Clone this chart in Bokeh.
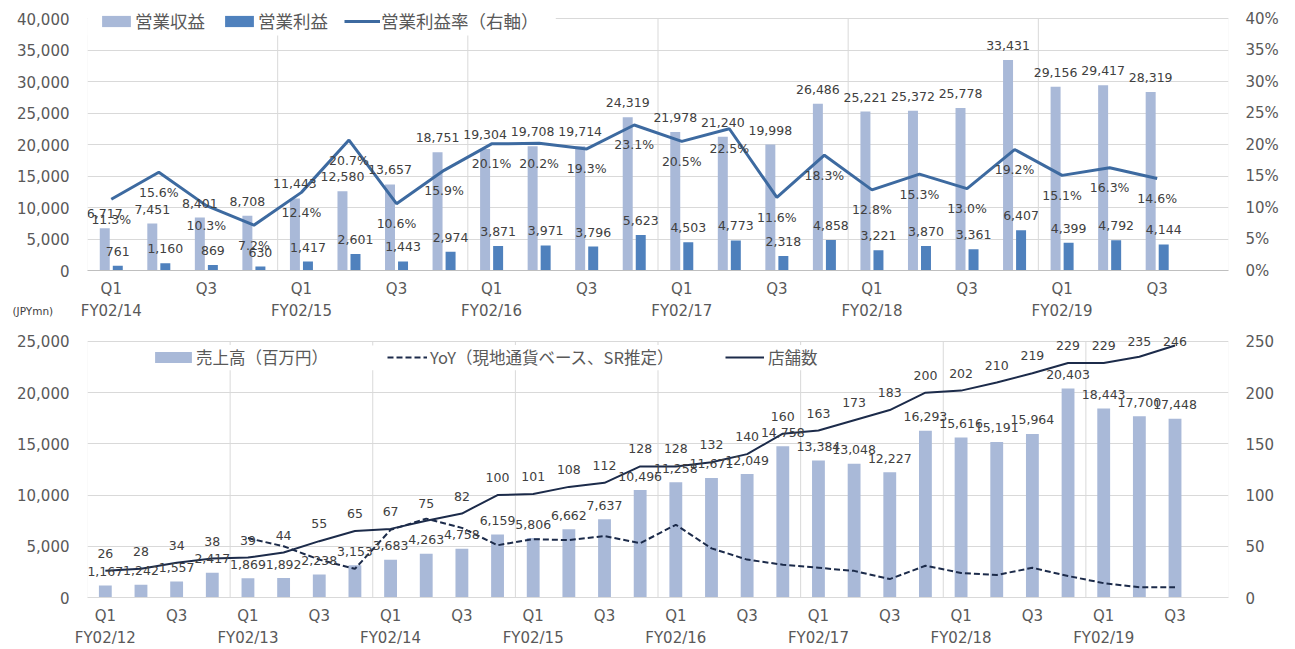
import numpy as np
from bokeh.plotting import figure
from bokeh.models import (Range1d, LinearAxis, FixedTicker, NumeralTickFormatter,
                          PrintfTickFormatter, ColumnDataSource, LabelSet, Title,
                          Legend, LegendItem, BoxAnnotation)
from bokeh.layouts import column
from bokeh.embed import file_html
from bokeh.resources import INLINE
from bokeh.core.properties import value

# ---------------- data: top chart ----------------
top_years = ["FY02/14", "FY02/15", "FY02/16", "FY02/17", "FY02/18", "FY02/19"]
quarter_names = ["Q1", "Q2", "Q3", "Q4"]
op_revenue = [6717, 7451, 8401, 8708, 11443, 12580, 13657, 18751, 19304, 19708, 19714, 24319,
              21978, 21240, 19998, 26486, 25221, 25372, 25778, 33431, 29156, 29417, 28319]
op_profit = [761, 1160, 869, 630, 1417, 2601, 1443, 2974, 3871, 3971, 3796, 5623,
             4503, 4773, 2318, 4858, 3221, 3870, 3361, 6407, 4399, 4792, 4144]
op_margin = [11.3, 15.6, 10.3, 7.2, 12.4, 20.7, 10.6, 15.9, 20.1, 20.2, 19.3, 23.1,
             20.5, 22.5, 11.6, 18.3, 12.8, 15.3, 13.0, 19.2, 15.1, 16.3, 14.6]

# ---------------- data: bottom chart ----------------
bottom_years = ["FY02/12", "FY02/13", "FY02/14", "FY02/15", "FY02/16", "FY02/17", "FY02/18", "FY02/19"]
sales = [1167, 1242, 1557, 2417, 1869, 1892, 2238, 3153, 3683, 4263, 4758, 6159, 5806, 6662, 7637,
         10496, 11258, 11671, 12049, 14758, 13384, 13048, 12227, 16293, 15616, 15191, 15964,
         20403, 18443, 17700, 17448]
stores = [26, 28, 34, 38, 39, 44, 55, 65, 67, 75, 82, 100, 101, 108, 112, 128, 128, 132, 140,
          160, 163, 173, 183, 200, 202, 210, 219, 229, 229, 235, 246]
yoy_start = 4
yoy = [58, 50, 37, 28, 66, 77, 68, 51, 57, 56, 60, 53, 71, 48, 37, 32, 29, 26, 18, 31,
       24, 22, 29, 21, 14, 10, 10]

# ---------------- styles ----------------
LIGHT = "#A9B9D8"
DARK = "#4F81BD"
LINE_TOP = "#3D6AA0"
NAVY = "#1C2B4A"
GRID = "#D9D9D9"
TICK_C = "#595959"
LAB_C = "#404040"
NUM_FONT = "DejaVu Sans"
JP_FONT = "Noto Sans CJK JP"
W = 1295


def style_axis(ax, standoff, size="15px"):
    ax.axis_line_color = None
    ax.major_tick_line_color = None
    ax.minor_tick_line_color = None
    ax.major_tick_out = 0
    ax.major_tick_in = 0
    ax.major_label_text_font = NUM_FONT
    ax.major_label_text_font_size = size
    ax.major_label_text_color = TICK_C
    ax.major_label_standoff = standoff


def fmt(v):
    return f"{v:,}"


def build_quarter_axes(p, n, years, s1, s2):
    qx = list(range(0, n, 2))
    q_over = {i: quarter_names[i % 4] for i in qx}
    fx = list(range(0, n, 4))
    f_over = {i: years[i // 4] for i in fx}
    ax_q = p.below[0]
    ax_q.ticker = FixedTicker(ticks=qx)
    ax_q.major_label_overrides = q_over
    style_axis(ax_q, s1)
    ax_f = LinearAxis(ticker=FixedTicker(ticks=fx), major_label_overrides=f_over)
    style_axis(ax_f, s2)
    p.add_layout(ax_f, "below")
    return ax_q, ax_f


def year_lines(p, n, ymax):
    b = np.arange(3.5, n, 4)
    p.segment(x0=b, y0=np.zeros(len(b)), x1=b, y1=np.full(len(b), ymax),
              line_color=GRID, line_width=1, level="underlay")


lab_kw = dict(text_font=value(NUM_FONT), text_font_size=value("12.5px"), text_color=LAB_C,
              text_align="center", text_baseline="middle")
leg_kw = dict(orientation="horizontal", label_text_font=JP_FONT,
              label_text_color=TICK_C, glyph_height=14, label_height=14, margin=0,
              border_line_color=None, background_fill_color="white", background_fill_alpha=1.0)

# ================= TOP FIGURE =================
n1 = len(op_revenue)
x1 = np.arange(n1)
Y1_MAX, P1_MAX = 40000, 40
ext1 = 1 + 14 / 252          # frame reaches a little above the 40,000 line (room for legend)
p1 = figure(width=W, height=326, x_range=Range1d(-0.5, n1 + 0.5),
            y_range=Range1d(0, Y1_MAX * ext1),
            output_backend="svg", toolbar_location=None,
            min_border_left=87, min_border_right=67, min_border_top=4, min_border_bottom=56)
p1.extra_y_ranges = {"pct": Range1d(0, P1_MAX * ext1)}
p1.outline_line_color = None
p1.background_fill_color = "white"
p1.border_fill_color = "white"

ax_q1, ax_f1 = build_quarter_axes(p1, n1, top_years, 9, 1)
ax_q1.axis_line_color = "#BFBFBF"

ly1 = p1.left[0]
yt1 = FixedTicker(ticks=list(range(0, Y1_MAX + 1, 5000)))
ly1.ticker = yt1
ly1.formatter = NumeralTickFormatter(format="0,0")
style_axis(ly1, 18)
p1.ygrid.ticker = yt1
p1.ygrid.grid_line_color = GRID
p1.xgrid.visible = False
year_lines(p1, n1, Y1_MAX)
p1.add_layout(BoxAnnotation(left=-0.5, right=n1 + 0.5, bottom=0, top=Y1_MAX, fill_color=None,
                            line_color=GRID, line_width=1, level="underlay"))
# white area behind the legend (legend sits over the plot's top-left corner)
p1.add_layout(BoxAnnotation(left=-0.6, right=9.35, bottom=37300, top=Y1_MAX * ext1,
                            fill_color="white", fill_alpha=1.0, line_color=None, level="underlay"))

ry1 = LinearAxis(y_range_name="pct", ticker=FixedTicker(ticks=list(range(0, P1_MAX + 1, 5))),
                 formatter=PrintfTickFormatter(format="%d%%"))
style_axis(ry1, 17)
p1.add_layout(ry1, "right")

src1 = ColumnDataSource(dict(
    xr=x1 - 0.137, xp=x1 + 0.137, xm=x1,
    rev=op_revenue, prof=op_profit, mar=op_margin,
    rev_t=[fmt(v) for v in op_revenue], prof_t=[fmt(v) for v in op_profit],
    mar_t=[f"{v:.1f}%" for v in op_margin]))

r_rev = p1.vbar(x="xr", top="rev", width=0.21, source=src1, fill_color=LIGHT, line_color=None)
r_prof = p1.vbar(x="xp", top="prof", width=0.21, source=src1, fill_color=DARK, line_color=None)
r_mar = p1.line(x="xm", y="mar", source=src1, y_range_name="pct", line_color=LINE_TOP, line_width=3)

p1.add_layout(LabelSet(x="xr", y="rev", text="rev_t", source=src1, y_offset=14.5, **lab_kw))
p1.add_layout(LabelSet(x="xp", y="prof", text="prof_t", source=src1, y_offset=14.5, **lab_kw))
p1.add_layout(LabelSet(x="xm", y="mar", text="mar_t", source=src1, y_range_name="pct",
                       y_offset=-20, **lab_kw))

leg1 = Legend(items=[LegendItem(label="営業収益", renderers=[r_rev]),
                     LegendItem(label="営業利益", renderers=[r_prof]),
                     LegendItem(label="営業利益率（右軸）", renderers=[r_mar])],
              location=(11, 237), label_text_font_size="17.5px", glyph_width=36,
              label_standoff=1, spacing=16, padding=8, **leg_kw)
p1.add_layout(leg1)

p1.add_layout(Title(text="(JPYmn)", align="left", offset=-75, standoff=-36, vertical_align="top",
                    text_font=NUM_FONT, text_font_size="10.5px", text_font_style="normal",
                    text_color=LAB_C), "below")

# ================= BOTTOM FIGURE =================
n2 = len(sales)
x2 = np.arange(n2)
Y2_MAX, S2_MAX = 25000, 250
ext2 = 1 + 13 / 257
p2 = figure(width=W, height=323, x_range=Range1d(-0.5, n2 + 0.5),
            y_range=Range1d(0, Y2_MAX * ext2),
            output_backend="svg", toolbar_location=None,
            min_border_left=86, min_border_right=56, min_border_top=2, min_border_bottom=51)
p2.extra_y_ranges = {"stores": Range1d(0, S2_MAX * ext2)}
p2.outline_line_color = None
p2.background_fill_color = "white"
p2.border_fill_color = "white"

ax_q2, ax_f2 = build_quarter_axes(p2, n2, bottom_years, 9, 1)
ax_q2.axis_line_color = GRID

ly2 = p2.left[0]
yt2 = FixedTicker(ticks=list(range(0, Y2_MAX + 1, 5000)))
ly2.ticker = yt2
ly2.formatter = NumeralTickFormatter(format="0,0")
style_axis(ly2, 18)
p2.ygrid.ticker = yt2
p2.ygrid.grid_line_color = GRID
p2.xgrid.visible = False
year_lines(p2, n2, Y2_MAX)
p2.add_layout(BoxAnnotation(left=-0.5, right=n2 + 0.5, bottom=0, top=Y2_MAX, fill_color=None,
                            line_color=GRID, line_width=1, level="underlay"))
# white band behind the legend row
p2.add_layout(BoxAnnotation(left=-0.1, right=22.0, bottom=22180, top=24610,
                            fill_color="white", fill_alpha=1.0, line_color=None, level="underlay"))

ry2 = LinearAxis(y_range_name="stores", ticker=FixedTicker(ticks=list(range(0, S2_MAX + 1, 50))))
style_axis(ry2, 17)
p2.add_layout(ry2, "right")

stores_arr = np.array(stores, dtype=float)
src2 = ColumnDataSource(dict(
    x=x2, sales=sales, stores=stores,
    sales_t=[fmt(v) for v in sales], stores_t=[str(v) for v in stores],
    st_lab_y=np.minimum(stores_arr + 17, S2_MAX)))
src_yoy = ColumnDataSource(dict(x=x2[yoy_start:yoy_start + len(yoy)], yoy=yoy))

r_sales = p2.vbar(x="x", top="sales", width=0.36, source=src2, fill_color=LIGHT, line_color=None)
r_yoy = p2.line(x="x", y="yoy", source=src_yoy, y_range_name="stores", line_color=NAVY,
                line_width=2, line_dash="6 3")
r_st = p2.line(x="x", y="stores", source=src2, y_range_name="stores", line_color=NAVY, line_width=2)

p2.add_layout(LabelSet(x="x", y="sales", text="sales_t", source=src2, y_offset=14, **lab_kw))
p2.add_layout(LabelSet(x="x", y="st_lab_y", text="stores_t", source=src2, y_range_name="stores",
                       **lab_kw))

for lbl, rr, loc_x, gw, so in [("売上高（百万円）", r_sales, 63, 46, 0),
                               ("YoY（現地通貨ベース、SR推定）", r_yoy, 300, 40, 3),
                               ("店舗数", r_st, 638, 39, 4)]:
    p2.add_layout(Legend(items=[LegendItem(label=lbl, renderers=[rr])],
                         location=(loc_x, 228), label_text_font_size="16.5px", glyph_width=gw,
                         label_standoff=so, padding=4, **leg_kw))

layout = column(p1, p2, spacing=0)
open("out.html", "w").write(file_html(layout, INLINE))
